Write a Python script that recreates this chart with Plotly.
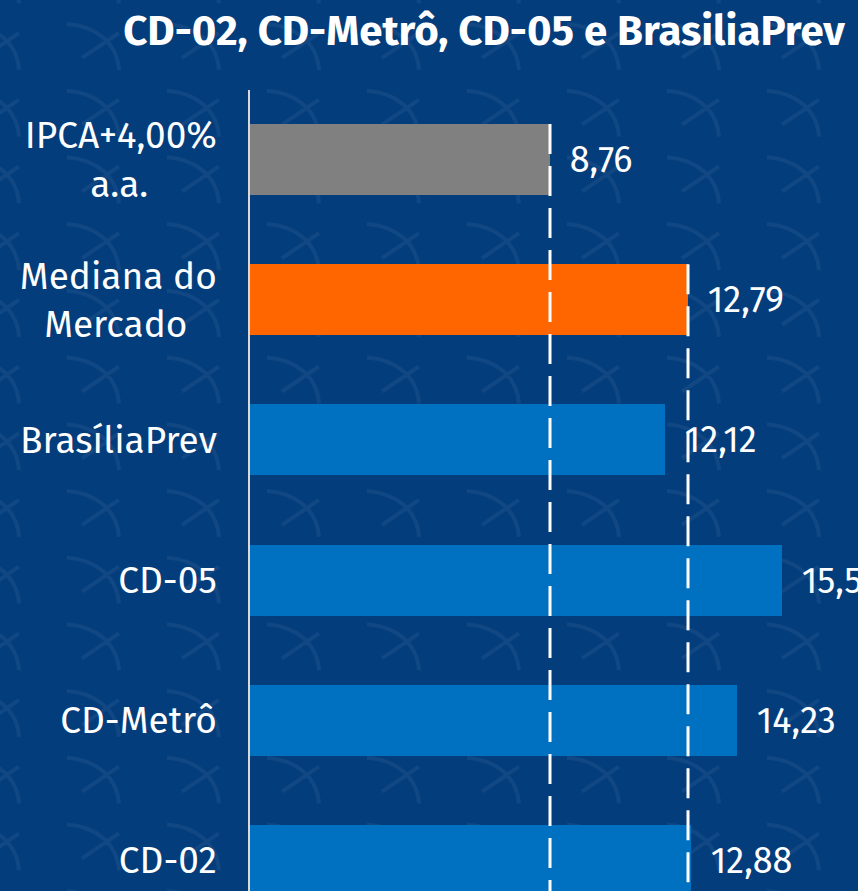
import plotly.graph_objects as go

# ---------------- data ----------------
NB = "\u00a0"
categories = ["IPCA+4,00%<br>a.a." + NB * 7, "Mediana do<br>Mercado" + NB * 3, "BrasíliaPrev", "CD-05", "CD-Metrô", "CD-02"]
values = [8.76, 12.79, 12.12, 15.53, 14.23, 12.88]
bar_colors = ["#808080", "#FF6600", "#0070C0", "#0070C0", "#0070C0", "#0070C0"]
reference_lines = [8.76, 12.79]          # dashed benchmark lines (IPCA+4% and market median)
reference_start_idx = [0, 1]             # category where each dashed line starts
title_text = "CD-02, CD-Metrô, CD-05 e BrasiliaPrev"

# ---------------- layout constants ----------------
W, H = 858, 891
ML, MR, MT, MB = 250, 0, 90, 0
BG = "#033D7C"
FONT = "Fira Sans, Open Sans, Noto Sans, sans-serif"
BAR_W = 0.506

fig = go.Figure()
fig.add_trace(go.Bar(
    y=categories,
    x=values,
    orientation="h",
    marker=dict(color=bar_colors, line=dict(width=0)),
    width=BAR_W,
    texttemplate="\u00a0\u2009%{x:.2f}",
    textposition="outside",
    constraintext="none",
    cliponaxis=False,
    textfont=dict(color="white", size=36, family=FONT),
    hoverinfo="skip",
))

# background pattern (decorative arcs with a cross stroke)
pw = W - ML - MR
ph = H - MT - MB
def px(x):
    return (x - ML) / pw
def py(y):
    return (H - MB - y) / ph

parts = []
for j in range(-1, 14):
    y0 = 24 + 66.7 * j
    for i in range(0, 10):
        x0 = -33 + 100 * i
        parts.append(
            f"M{px(x0):.4f},{py(y0):.4f} "
            f"C{px(x0+28):.4f},{py(y0+2):.4f} {px(x0+50):.4f},{py(y0+18):.4f} {px(x0+52):.4f},{py(y0+46):.4f}"
        )
        parts.append(
            f"M{px(x0+15):.4f},{py(y0+34):.4f} L{px(x0+52):.4f},{py(y0+9):.4f}"
        )
fig.add_shape(type="path", path=" ".join(parts), xref="paper", yref="paper",
              line=dict(color="rgba(255,255,255,0.06)", width=4), layer="below")

# dashed benchmark lines
for val, idx in zip(reference_lines, reference_start_idx):
    fig.add_shape(type="line", xref="x", yref="y",
                  x0=val, x1=val, y0=idx - BAR_W / 2, y1=5.6,
                  line=dict(color="white", width=3, dash="30px,12px"),
                  layer="above")

fig.update_layout(
    width=W, height=H,
    margin=dict(l=ML, r=MR, t=MT, b=MB, pad=0),
    paper_bgcolor=BG,
    plot_bgcolor=BG,
    separators=",.",
    showlegend=False,
    bargap=0,
    title=dict(
        text=f"<b>{title_text}</b>",
        font=dict(family=FONT, size=42, color="white"),
        xref="container", yref="container",
        x=484 / W, xanchor="center",
        y=1 - 30 / H, yanchor="middle",
    ),
    xaxis=dict(
        range=[0, (W - ML) / (300 / 8.76)],
        showgrid=False, zeroline=False, showticklabels=False,
        showline=False, ticks="", fixedrange=True,
    ),
    yaxis=dict(
        type="category",
        categoryorder="array", categoryarray=categories,
        range=[5.218, -0.496],
        showgrid=False, zeroline=False,
        showline=True, linecolor="#D9D9D9", linewidth=1.5,
        ticks="", ticklabelstandoff=24,
        tickfont=dict(family=FONT, size=37, color="white"),
        fixedrange=True,
    ),
)

fig.write_html(
    "out.html",
    config={"displayModeBar": False},
    post_script="document.body.style.margin='0';document.body.style.background='#033D7C';",
)
